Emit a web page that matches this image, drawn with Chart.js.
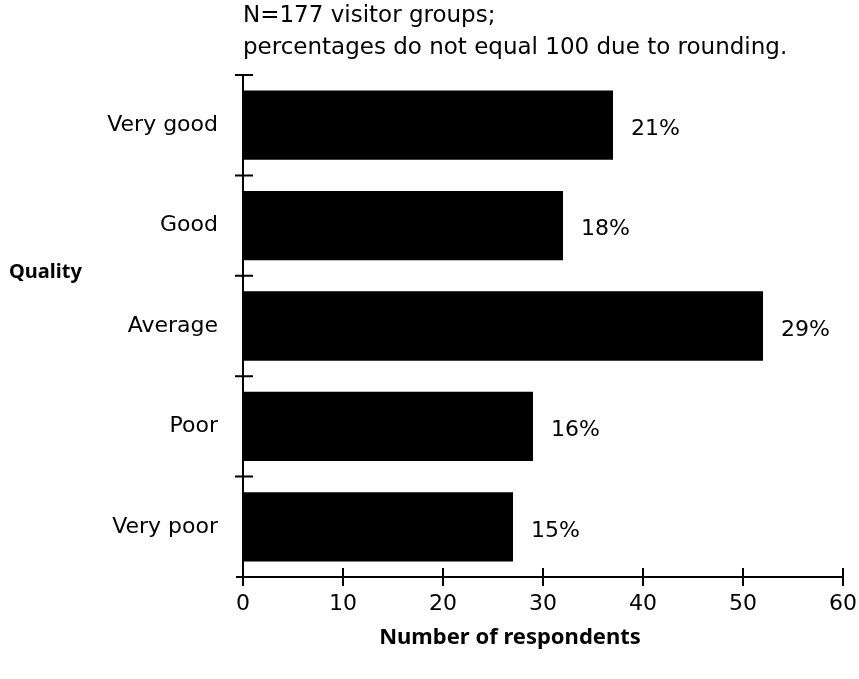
<!DOCTYPE html>
<html>
<head>
<meta charset="utf-8">
<script src="https://cdn.jsdelivr.net/npm/chart.js@4.4.1/dist/chart.umd.min.js"></script>
<style>
  html, body { margin: 0; padding: 0; background: #fff; }
  #wrap { width: 859px; height: 679px; }
</style>
</head>
<body>
<div id="wrap"><canvas id="qualityChart" width="859" height="679"></canvas></div>
<script>
const categories = ['Very good', 'Good', 'Average', 'Poor', 'Very poor'];
const respondents = [37, 32, 52, 29, 27];
const percentLabels = ['21%', '18%', '29%', '16%', '15%'];
const xTickValues = [0, 10, 20, 30, 40, 50, 60];
const noteLines = ['N=177 visitor groups;', 'percentages do not equal 100 due to rounding.'];

const FONT = '"DejaVu Sans", Verdana, sans-serif';
const BOLD_FONT = '"Noto Sans", "DejaVu Sans", sans-serif';

// axes with ticks that cross the line, plus the free text
const decorations = {
    id: 'decorations',
    afterDatasetsDraw(chart) {
        const c = chart.ctx;
        const area = chart.chartArea;
        const xs = chart.scales.x;
        const ys = chart.scales.y;
        c.save();
        c.strokeStyle = '#000';
        c.lineWidth = 2;
        c.beginPath();
        // y axis
        c.moveTo(area.left, area.top);
        c.lineTo(area.left, area.bottom + 9);
        // x axis
        c.moveTo(area.left - 7, area.bottom);
        c.lineTo(area.right, area.bottom);
        xTickValues.forEach(v => {
            const px = xs.getPixelForValue(v);
            c.moveTo(px, area.bottom - 9);
            c.lineTo(px, area.bottom + 9);
        });
        for (let i = 0; i < categories.length; i++) {
            const py = ys.getPixelForValue(i - 0.5);
            c.moveTo(area.left - 8, py);
            c.lineTo(area.left + 10, py);
        }
        c.stroke();

        // percentage labels
        c.fillStyle = '#000';
        c.font = '22px ' + FONT;
        c.textAlign = 'left';
        c.textBaseline = 'middle';
        const meta = chart.getDatasetMeta(0);
        meta.data.forEach((bar, i) => {
            c.fillText(percentLabels[i], bar.x + 18, bar.y + 4);
        });

        // note at top
        c.font = '23px ' + FONT;
        c.textBaseline = 'alphabetic';
        noteLines.forEach((t, i) => c.fillText(t, area.left, 22 + i * 32));

        // horizontal y title
        c.font = 'bold 20px ' + BOLD_FONT;
        c.fillText('Quality', 9, 278);

        // x title
        c.font = 'bold 22px ' + BOLD_FONT;
        c.textAlign = 'center';
        c.fillText('Number of respondents', 510, 644);
        c.restore();
    }
};

new Chart(document.getElementById('qualityChart').getContext('2d'), {
    type: 'bar',
    data: {
        labels: categories,
        datasets: [{
            data: respondents,
            backgroundColor: '#000',
            borderColor: '#000',
            borderWidth: 0,
            barPercentage: 0.69,
            categoryPercentage: 1.0
        }]
    },
    options: {
        indexAxis: 'y',
        responsive: false,
        animation: false,
        layout: { padding: { top: 75, right: 16, left: 0, bottom: 0 } },
        plugins: { legend: { display: false }, tooltip: { enabled: false } },
        scales: {
            x: {
                min: 0,
                max: 60,
                grid: { display: false, drawTicks: false },
                border: { display: false },
                ticks: {
                    stepSize: 10,
                    padding: 14,
                    color: '#000',
                    font: { family: FONT, size: 22 }
                },
                afterFit(scale) {
                    scale.height = 102;
                    scale.paddingLeft = 0;
                    scale.paddingRight = 0;
                }
            },
            y: {
                grid: { display: false, drawTicks: false },
                border: { display: false },
                ticks: {
                    padding: 25,
                    color: '#000',
                    font: { family: FONT, size: 22 }
                },
                afterFit(scale) { scale.width = 243; }
            }
        }
    },
    plugins: [decorations]
});
</script>
</body>
</html>
